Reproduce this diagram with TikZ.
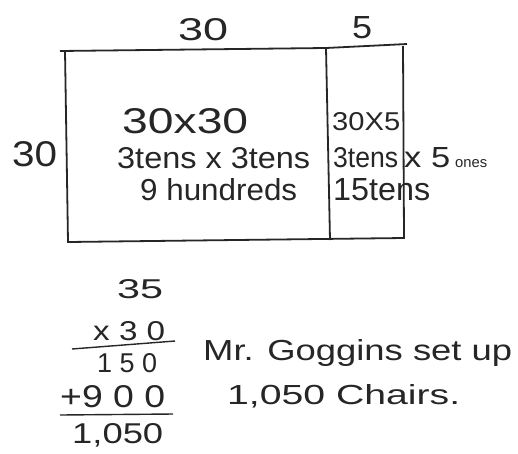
\documentclass[tikz,border=0pt]{standalone}
\usepackage{graphicx}
\usepackage{fontspec}
\setmainfont{Liberation Sans}
\newcommand{\hw}[3]{\resizebox{#1pt}{#2pt}{#3}}
\begin{document}
\begin{tikzpicture}[x=1pt,y=-1pt,
  hand/.style={line width=1.8pt, black!85},
  rule/.style={line width=1.4pt, black!85},
  hwt/.style={inner sep=0pt, anchor=base west, text=black!85}]
\useasboundingbox (0,0) rectangle (518,453);
% rectangle
\coordinate (ts) at (60,51);
\coordinate (tl) at (65,51);
\coordinate (mt) at (326,48);
\coordinate (tr) at (403,46);
\coordinate (te) at (407,44);
\coordinate (bl) at (68,242);
\coordinate (mb) at (330,240);
\coordinate (br) at (404,238);
\draw[hand] (ts) -- (mt) -- (te);
\draw[hand] (tl) -- (bl) -- (br) -- (tr);
\draw[hand] (mt) -- (mb);
% side labels
\node[hwt] (a) at (178,40) {\hw{50}{22}{30}};
\node[hwt] (b) at (352,38) {\hw{20}{22}{5}};
\node[hwt] (c) at (12,166) {\hw{45}{25}{30}};
% inner text, large part
\node[hwt] (d) at (122,133) {\hw{126}{25}{30x30}};
\node[hwt] (e) at (117,168) {\hw{193}{21}{3tens x 3tens}};
\node[hwt] (f) at (140,200) {\hw{157}{22}{9 hundreds}};
% small part
\node[hwt] (g) at (332,130) {\hw{68}{18}{30X5}};
\node[hwt] (h) at (333,167) {\hw{65}{20}{3tens}};
\node[hwt] (i) at (404,167) {\hw{46}{20}{x 5}};
\node[hwt] (i2) at (455,167) {\hw{32}{8}{ones}};
\node[hwt] (j) at (333,200) {\hw{97}{22}{15tens}};
% vertical multiplication
\node[hwt] (k) at (117,298) {\hw{46}{19}{35}};
\node[hwt] (l) at (93,340) {\hw{72}{19}{x 3 0}};
\coordinate (l1a) at (72,349);
\coordinate (l1b) at (175,341);
\draw[rule] (l1a) -- (l1b);
\node[hwt] (m) at (97,372) {\hw{60}{19}{1 5 0}};
\node[hwt] (n) at (60,407) {\hw{105}{22}{+9 0 0}};
\coordinate (l2a) at (60,415);
\coordinate (l2b) at (173,414);
\draw[rule] (l2a) -- (l2b);
\node[hwt] (o) at (72,443) {\hw{91}{20}{1,050}};
% sentence
\node[hwt] (p) at (203,360) {\hw{309}{21}{Mr. Goggins set up}};
\node[hwt] (q) at (227,404) {\hw{233}{20}{1,050 Chairs.}};
\end{tikzpicture}
\end{document}
